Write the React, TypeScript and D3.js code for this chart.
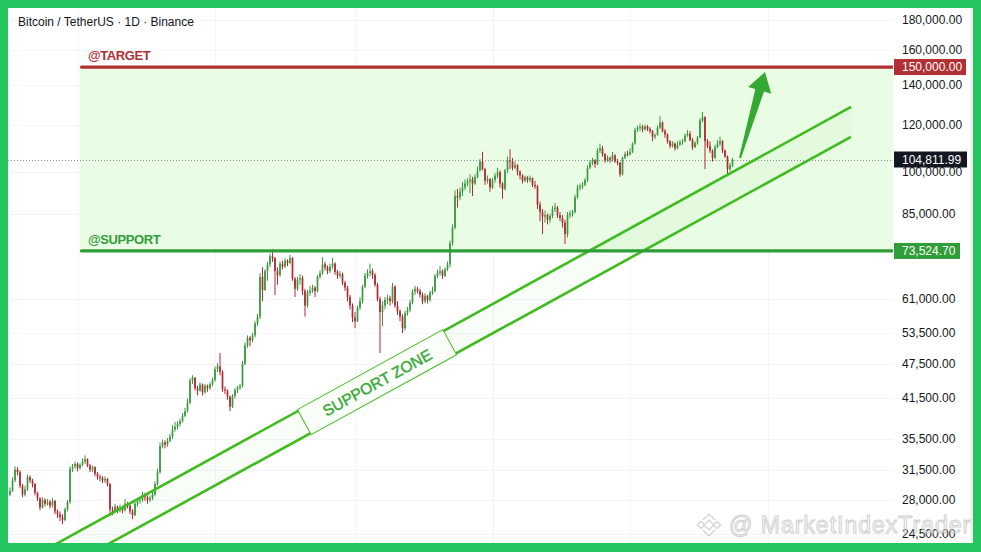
import React from 'react';
import * as d3 from 'd3';

const W = 981;
const H = 552;

// ---- Data (prices in thousands USDT) ----
const firstOpen = 28.6;
const closes = [
  29.0, 30.2, 31.5, 31.2, 29.6, 28.6, 29.2, 30.6,
  30.2, 29.8, 28.8, 28.2, 27.2, 28.0, 27.6, 27.8,
  27.4, 27.9, 26.8, 26.5, 26.2, 25.9, 27.0, 27.8,
  31.6, 31.9, 32.2, 31.7, 32.1, 32.5, 32.8, 32.0,
  31.5, 31.8, 31.0, 30.6, 30.5, 30.2, 30.4, 29.8,
  27.0, 26.8, 27.3, 26.9, 27.2, 26.9, 27.6, 27.4,
  26.8, 26.4, 27.6, 27.9, 28.0, 28.6, 28.3, 28.0,
  28.2, 28.6, 29.8, 31.2, 34.5, 35.0, 34.7, 35.2,
  35.8, 36.8, 37.2, 37.6, 38.0, 38.8, 39.5, 40.8,
  44.5, 45.0, 43.2, 42.8, 43.8, 42.5, 43.6, 43.2,
  43.9, 44.6, 46.5, 47.0, 46.0, 43.0, 42.8, 41.8,
  40.2, 41.9, 42.9, 43.3, 43.6, 47.5, 51.0, 52.5,
  52.0, 53.0, 55.5, 57.0, 66.5, 63.2, 68.0, 69.8,
  72.0, 71.5, 68.0, 67.0, 70.0, 69.2, 70.8, 70.2,
  71.5, 66.0, 63.5, 65.8, 66.2, 63.0, 59.5, 62.5,
  63.0, 63.8, 62.9, 66.5, 67.5, 69.8, 69.0, 68.0,
  69.2, 70.0, 67.8, 66.8, 67.2, 65.0, 63.8, 61.5,
  59.5, 56.8, 56.0, 59.0, 60.5, 64.0, 66.8, 67.5,
  68.0, 67.0, 64.5, 61.0, 58.0, 59.5, 60.8, 61.2,
  60.5, 64.0, 59.5, 58.2, 57.0, 54.5, 57.8, 58.5,
  60.2, 62.8, 63.5, 63.0, 62.0, 60.5, 61.8, 60.8,
  62.5, 63.0, 66.8, 67.5, 68.0, 66.8, 68.5, 69.8,
  75.8, 80.5, 91.0, 90.5, 92.5, 94.0, 95.5, 96.2,
  97.0, 95.5, 98.0, 100.5, 104.0, 101.0, 96.5, 97.2,
  94.0, 96.8, 98.5, 99.8, 95.5, 93.5, 100.5, 104.5,
  104.0, 101.5, 102.5, 100.0, 98.5, 96.5, 97.8, 96.8,
  97.5, 95.0, 94.5, 88.0, 85.5, 84.0, 84.5, 83.0,
  84.2, 86.5, 87.0, 84.5, 83.5, 82.0, 78.5, 84.5,
  85.0, 85.5, 90.5, 94.0, 94.5, 95.0, 96.8, 101.5,
  103.5, 104.5, 103.0, 108.5, 109.5, 107.0, 104.5, 105.5,
  104.8, 106.5, 104.0, 103.5, 99.0, 105.5, 107.0, 106.8,
  108.0, 111.5, 117.5, 118.5, 119.0, 117.8, 119.2, 118.0,
  117.0, 114.5, 115.2, 118.5, 121.0, 117.0, 115.5, 112.5,
  110.5, 111.5, 109.5, 111.0, 112.0, 112.5, 115.0, 115.8,
  113.0, 110.0, 111.8, 114.0, 122.0, 123.5, 112.5, 110.5,
  108.5, 105.5, 110.0, 111.5, 112.5, 108.5, 106.0, 101.0,
  102.5, 104.81199,
];
const highs = [
  29.4, 30.6, 31.9, 31.8, 31.4, 29.8, 29.6, 30.9,
  30.8, 30.4, 29.9, 28.9, 28.3, 28.3, 28.2, 28.1,
  28.0, 28.2, 28.0, 27.0, 26.8, 26.5, 27.2, 28.0,
  31.9, 32.2, 32.5, 32.4, 32.3, 32.9, 33.3, 32.9,
  32.2, 32.0, 31.9, 31.2, 30.9, 30.7, 30.7, 30.5,
  29.9, 27.3, 27.6, 27.4, 27.5, 27.4, 28.1, 27.8,
  27.5, 27.0, 27.8, 28.1, 28.3, 28.9, 28.8, 28.5,
  28.5, 28.9, 30.1, 31.6, 35.0, 35.4, 35.3, 35.6,
  36.2, 37.4, 37.9, 38.0, 38.4, 39.2, 40.0, 41.5,
  44.9, 45.4, 45.1, 43.6, 44.2, 44.0, 43.9, 43.8,
  44.2, 45.0, 47.0, 47.6, 49.5, 46.3, 43.5, 43.0,
  42.0, 42.2, 43.2, 43.6, 43.9, 48.0, 51.5, 53.0,
  52.9, 53.5, 56.0, 57.6, 67.5, 69.0, 68.5, 70.5,
  72.8, 74.0, 71.8, 69.0, 70.6, 70.8, 71.5, 71.2,
  72.4, 71.8, 66.5, 66.5, 67.2, 66.8, 63.5, 63.2,
  64.2, 64.5, 64.2, 67.0, 68.2, 71.8, 70.5, 69.5,
  70.0, 71.6, 70.4, 68.3, 68.0, 67.6, 65.5, 64.2,
  62.0, 60.0, 58.0, 59.5, 61.4, 64.5, 67.5, 68.5,
  70.0, 68.6, 67.5, 65.0, 61.6, 60.5, 61.5, 62.0,
  61.8, 65.0, 64.4, 60.5, 58.6, 57.5, 58.3, 59.2,
  60.8, 63.4, 64.2, 64.0, 63.5, 62.6, 62.4, 62.0,
  63.0, 64.0, 67.2, 68.4, 69.4, 68.4, 69.0, 70.6,
  76.5, 81.5, 93.0, 93.5, 94.0, 96.0, 97.0, 97.5,
  99.0, 98.0, 99.0, 102.0, 105.0, 108.0, 101.5, 98.5,
  97.5, 97.5, 99.5, 101.5, 100.5, 96.0, 101.0, 106.0,
  109.0, 105.5, 104.0, 103.0, 100.5, 99.0, 98.5, 98.2,
  98.5, 97.8, 96.5, 95.0, 89.0, 86.5, 86.0, 85.0,
  85.0, 87.5, 88.5, 87.5, 85.5, 84.5, 83.0, 85.5,
  86.0, 86.2, 91.5, 95.0, 95.5, 96.0, 97.5, 102.5,
  104.5, 105.5, 105.0, 109.5, 111.5, 110.5, 107.5, 106.5,
  106.0, 108.0, 107.0, 105.0, 103.8, 106.0, 108.0, 108.5,
  109.5, 112.0, 118.5, 119.5, 120.5, 119.8, 120.0, 119.8,
  118.8, 117.5, 116.0, 119.5, 124.0, 121.5, 118.0, 116.0,
  113.0, 112.5, 112.0, 112.5, 113.0, 113.5, 116.0, 117.5,
  117.0, 114.0, 112.5, 114.8, 123.0, 126.0, 124.0, 113.5,
  112.5, 109.0, 111.0, 113.0, 114.5, 113.0, 109.0, 106.5,
  103.5, 105.5,
];
const lows = [
  28.4, 28.9, 30.0, 30.8, 29.3, 28.3, 28.4, 29.0,
  29.9, 29.4, 28.5, 27.9, 26.9, 27.1, 27.3, 27.4,
  27.1, 27.2, 26.5, 26.1, 25.8, 25.5, 25.8, 26.8,
  27.6, 31.2, 31.6, 31.3, 31.5, 31.9, 32.2, 31.8,
  31.2, 31.2, 30.7, 30.3, 30.1, 29.9, 29.9, 29.5,
  26.3, 26.4, 26.7, 26.6, 26.7, 26.6, 26.8, 27.1,
  26.5, 26.0, 26.3, 27.3, 27.6, 27.8, 27.9, 27.6,
  27.8, 28.0, 28.4, 29.6, 31.0, 34.2, 34.2, 34.4,
  35.0, 35.5, 36.5, 36.8, 37.2, 37.8, 38.6, 39.3,
  40.6, 43.9, 42.8, 42.0, 42.6, 42.0, 42.3, 42.6,
  42.9, 43.5, 44.3, 46.0, 45.4, 42.6, 42.2, 41.3,
  39.5, 40.0, 41.5, 42.4, 42.9, 43.3, 47.2, 50.5,
  50.8, 51.6, 52.6, 55.0, 56.5, 60.5, 63.0, 65.5,
  69.0, 70.5, 62.0, 64.5, 66.5, 68.5, 68.8, 69.3,
  69.8, 65.5, 61.5, 63.0, 64.5, 62.0, 57.0, 59.0,
  61.8, 62.5, 61.5, 62.6, 66.0, 67.0, 68.2, 67.2,
  67.5, 68.6, 67.0, 66.0, 66.2, 64.4, 63.0, 60.5,
  58.6, 55.8, 54.5, 55.8, 58.5, 60.0, 63.6, 66.0,
  66.6, 66.0, 64.0, 60.5, 49.5, 55.0, 58.6, 59.8,
  59.5, 60.0, 59.0, 57.4, 56.0, 53.5, 54.0, 57.2,
  58.0, 59.8, 62.0, 62.4, 61.4, 59.8, 60.0, 60.0,
  60.4, 62.0, 62.6, 66.2, 66.8, 66.0, 66.4, 68.0,
  69.0, 75.0, 80.0, 87.0, 89.5, 91.0, 93.0, 94.5,
  92.0, 91.0, 95.0, 97.5, 100.0, 100.5, 95.0, 95.5,
  92.5, 93.5, 95.8, 97.5, 94.0, 90.0, 93.0, 99.5,
  101.0, 100.5, 101.0, 98.5, 97.0, 95.5, 96.0, 95.8,
  96.0, 94.2, 93.5, 86.5, 82.5, 78.5, 82.0, 81.5,
  82.0, 83.5, 85.5, 83.5, 82.5, 80.5, 75.5, 77.5,
  83.5, 84.0, 85.0, 90.0, 93.0, 93.5, 94.5, 96.0,
  101.0, 102.5, 101.5, 102.5, 107.5, 106.0, 103.5, 103.8,
  103.5, 104.0, 103.5, 102.5, 98.0, 98.5, 105.0, 106.0,
  106.5, 107.5, 111.0, 116.5, 117.0, 116.5, 117.2, 117.0,
  116.0, 112.5, 113.5, 115.0, 118.0, 116.5, 114.0, 111.5,
  109.5, 109.8, 108.5, 109.0, 110.5, 111.0, 112.0, 114.5,
  112.5, 108.8, 109.5, 111.0, 114.0, 121.0, 101.0, 109.5,
  107.5, 104.0, 105.0, 109.5, 110.5, 107.5, 105.5, 99.0,
  100.0, 101.8,
];

const priceTicks = [180000, 160000, 140000, 120000, 100000, 85000, 61000, 53500, 47500, 41500, 35500, 31500, 28000, 24500];
const targetPrice = 150000;
const supportPrice = 73524.7;
const lastPrice = 104811.99;
const zoneStartIdx = 28;
// channel anchors: [candle index, price]
const upperTrend = [[96, 35700], [336.4, 128500]];
const lowerTrend = [[96, 31900], [336.4, 114400]];
const arrowFrom = [292, 105400];
const arrowTo = [302, 147100];
const zoneLabelIdx = 146.8;
const vGridIdx = [27, 82, 138, 193, 248, 303];
const title = 'Bitcoin / TetherUS · 1D · Binance';

const FONT = '"Liberation Sans", Arial, sans-serif';
const GREEN_C = '#3a9a3e';
const RED_C = '#b42833';
const TARGET_RED = '#b22f33';
const SUPPORT_GREEN = '#2f9e38';
const TREND = '#3fbc1d';

const fmt = d3.format(',.2f');

export default function App() {
  const plot = { l: 8, r: 893, t: 8, b: 543 };
  const xs = d3.scaleLinear().domain([0, closes.length - 1]).range([10, 732.5]);
  const ys = d3.scaleLog().domain([28000, 180000]).range([500, 20]);

  const candles = closes.map((c, i) => {
    const o = i === 0 ? firstOpen : closes[i - 1];
    const h = Math.max(highs[i], o, c);
    const l = Math.min(lows[i], o, c);
    return { i, o, c, h, l };
  });

  const line = (a: number[][]) => {
    const p1 = [xs(a[0][0]), ys(a[0][1])];
    const p2 = [xs(a[1][0]), ys(a[1][1])];
    const m = (p2[1] - p1[1]) / (p2[0] - p1[0]);
    const start = [0, p1[1] - m * p1[0]];
    return { start, end: p2, m };
  };
  const up = line(upperTrend);
  const lo = line(lowerTrend);
  const zonePoly = [up.start, up.end, lo.end, lo.start].map((p) => p.join(',')).join(' ');

  // zone label
  const lx = xs(zoneLabelIdx);
  const uy = up.start[1] + up.m * lx;
  const ly = lo.start[1] + lo.m * lx;
  const ly2 = (uy + ly) / 2;
  const ang = (Math.atan(up.m) * 180) / Math.PI;
  const gap = (ly - uy) * Math.cos(Math.atan(up.m));

  // arrow
  const ax0 = xs(arrowFrom[0]);
  const ay0 = ys(arrowFrom[1]);
  const ax1 = xs(arrowTo[0]);
  const ay1 = ys(arrowTo[1]);
  const dx = ax1 - ax0;
  const dy = ay1 - ay0;
  const len = Math.hypot(dx, dy);
  const ux = dx / len;
  const uy2 = dy / len;
  const nx = -uy2;
  const ny = ux;
  const headLen = 19;
  const bx = ax1 - ux * headLen;
  const by = ay1 - uy2 * headLen;
  const arrowPts = [
    [ax0 + nx * 1, ay0 + ny * 1],
    [bx + nx * 4.5, by + ny * 4.5],
    [bx + nx * 12, by + ny * 12],
    [ax1, ay1],
    [bx - nx * 12, by - ny * 12],
    [bx - nx * 4.5, by - ny * 4.5],
    [ax0 - nx * 1, ay0 - ny * 1],
  ]
    .map((p) => p.join(','))
    .join(' ');

  const yT = ys(targetPrice);
  const yS = ys(supportPrice);
  const yL = ys(lastPrice);
  const zx = xs(zoneStartIdx);

  const badges = [
    { p: targetPrice, color: TARGET_RED, w: 72 },
    { p: lastPrice, color: '#131722', w: 73 },
    { p: supportPrice, color: SUPPORT_GREEN, w: 66 },
  ];

  return (
    <svg width={W} height={H} style={{ position: 'absolute', left: 0, top: 0 }} fontFamily={FONT}>
      <defs>
        <clipPath id="plotclip">
          <rect x={plot.l} y={plot.t} width={plot.r - plot.l} height={plot.b - plot.t} />
        </clipPath>
        <clipPath id="whiteclip">
          <rect x={8} y={8} width={965} height={535} />
        </clipPath>
      </defs>
      <rect x={0} y={0} width={W} height={H} fill="#22c55e" />
      <rect x={8} y={8} width={965} height={535} fill="#ffffff" />
      <rect x={970} y={8} width={3} height={535} fill="#f1f1f1" />

      {/* grid */}
      <g stroke="#f3f4f7" strokeWidth={1}>
        {priceTicks.map((t) => (
          <line key={t} x1={plot.l} x2={plot.r} y1={Math.round(ys(t)) + 0.5} y2={Math.round(ys(t)) + 0.5} />
        ))}
        {vGridIdx.map((g) => (
          <line key={g} x1={Math.round(xs(g)) + 0.5} x2={Math.round(xs(g)) + 0.5} y1={plot.t} y2={plot.b} />
        ))}
      </g>

      <g clipPath="url(#plotclip)">
        {/* target/support zone */}
        <rect x={zx} y={yT} width={plot.r - zx} height={yS - yT} fill="#e9fce4" />

        {/* channel fill */}
        <polygon points={zonePoly} fill="rgba(120,215,90,0.045)" />

        {/* last price dotted line */}
        <line x1={plot.l} x2={plot.r} y1={Math.round(yL) + 0.5} y2={Math.round(yL) + 0.5} stroke="#8a8d96" strokeWidth={1} strokeDasharray="1 2" />

        {/* candles */}
        {candles.map((d) => {
          const x = xs(d.i);
          const col = d.c >= d.o ? GREEN_C : RED_C;
          const top = ys(Math.max(d.o, d.c) * 1000);
          const bot = ys(Math.min(d.o, d.c) * 1000);
          return (
            <g key={d.i}>
              <line x1={x} x2={x} y1={ys(d.h * 1000)} y2={ys(d.l * 1000)} stroke={col} strokeWidth={1} />
              <rect x={x - 0.85} y={top} width={1.7} height={Math.max(1, bot - top)} fill={col} />
            </g>
          );
        })}

        {/* channel lines */}
        <line x1={up.start[0]} y1={up.start[1]} x2={up.end[0]} y2={up.end[1]} stroke={TREND} strokeWidth={2.6} />
        <line x1={lo.start[0]} y1={lo.start[1]} x2={lo.end[0]} y2={lo.end[1]} stroke={TREND} strokeWidth={2.6} />

        {/* zone label */}
        <g transform={`translate(${lx},${ly2}) rotate(${ang})`}>
          <rect x={-83} y={-gap / 2 - 1.5} width={166} height={gap + 3} fill="#fafff9" stroke={TREND} strokeWidth={1} />
          <text x={0} y={0.5} textAnchor="middle" dominantBaseline="central" fontSize={15.5} fill="#3aa83a" stroke="#3aa83a" strokeWidth={0.45}>
            SUPPORT ZONE
          </text>
        </g>

        {/* arrow */}
        <polygon points={arrowPts} fill="#35a833" />

        {/* target/support lines */}
        <line x1={zx + 1.5} x2={plot.r} y1={yT} y2={yT} stroke={TARGET_RED} strokeWidth={3.2} strokeLinecap="round" />
        <line x1={zx + 1.5} x2={plot.r} y1={yS} y2={yS} stroke={SUPPORT_GREEN} strokeWidth={3.2} strokeLinecap="round" />
      </g>

      <text x={zx + 8} y={yT - 7} fontSize={13} letterSpacing={-0.4} fontWeight="bold" fill={TARGET_RED}>
        @TARGET
      </text>
      <text x={zx + 8} y={yS - 7} fontSize={13} letterSpacing={-0.4} fontWeight="bold" fill={SUPPORT_GREEN}>
        @SUPPORT
      </text>

      <text x={18} y={26} fontSize={12} fill="#131722">
        {title}
      </text>

      {/* price axis */}
      <g fontSize={12} fill="#131722">
        {priceTicks.map((t) => (
          <text key={t} x={902} y={ys(t)} dominantBaseline="central">
            {fmt(t)}
          </text>
        ))}
      </g>
      {badges.map((b) => (
        <g key={b.p}>
          <rect x={894} y={ys(b.p) - 8} width={b.w} height={16} fill={b.color} />
          <text x={902} y={ys(b.p)} dominantBaseline="central" fontSize={12} fill="#ffffff">
            {fmt(b.p)}
          </text>
        </g>
      ))}

      {/* watermark */}
      <g clipPath="url(#whiteclip)" opacity={0.8}>
        <g transform="translate(709,525)" fill="#ffffff" stroke="#c8c8c8" strokeWidth={1.2}>
          <rect x={-3.5} y={-3.5} width={7} height={7} transform="rotate(45)" />
          <rect x={-2.5} y={-2.5} width={5} height={5} transform="translate(-8,0) rotate(45)" />
          <rect x={-2.5} y={-2.5} width={5} height={5} transform="translate(8,0) rotate(45)" />
          <path d="M-6,-5 L0,-11 L6,-5" fill="none" />
          <path d="M-6,5 L0,11 L6,5" fill="none" />
        </g>
        <text x={729} y={533} fontSize={23} letterSpacing={1} fill="#ffffff" fillOpacity={0.5} stroke="#c6c6c6" strokeWidth={1}>
          @ MarketIndexTrader
        </text>
      </g>
    </svg>
  );
}
